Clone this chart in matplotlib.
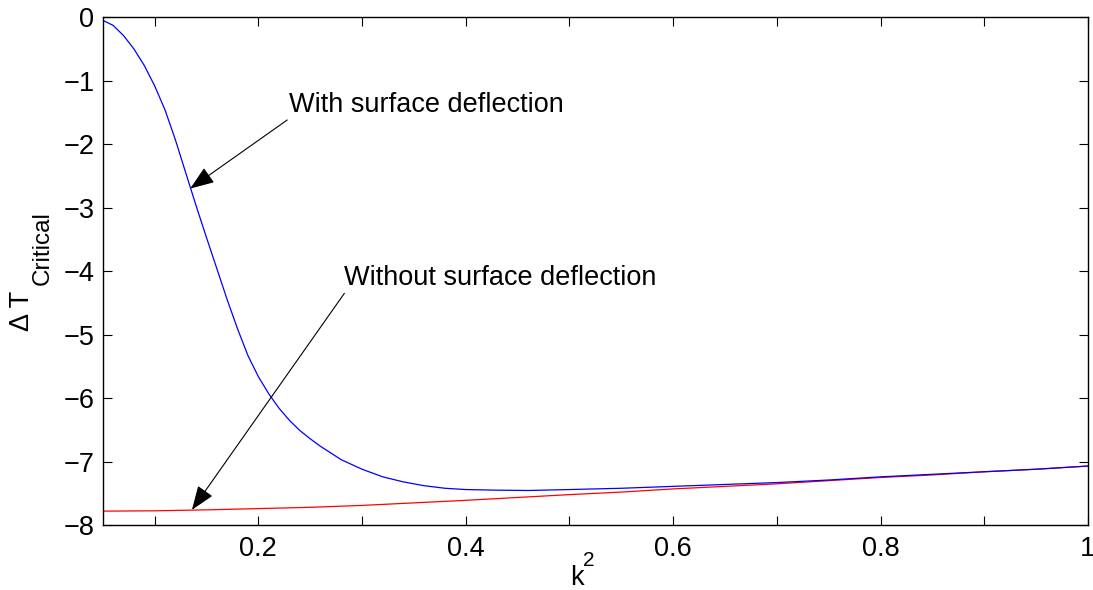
import numpy as np
import matplotlib
matplotlib.use("Agg")
import matplotlib.pyplot as plt

plt.rcParams['font.family'] = ['Liberation Sans', 'DejaVu Sans']

# critical temperature difference vs k^2
k2_with = [0.05, 0.06, 0.07, 0.08, 0.09, 0.10, 0.11, 0.12, 0.13, 0.14,
           0.15, 0.16, 0.17, 0.18, 0.19, 0.20, 0.21, 0.22, 0.23, 0.24,
           0.25, 0.26, 0.28, 0.30, 0.32, 0.34, 0.36, 0.38, 0.40, 0.43,
           0.46, 0.50, 0.55, 0.60, 0.65, 0.70, 0.75, 0.80, 0.85, 0.90,
           0.95, 1.00]
dT_with = [-0.05, -0.13, -0.29, -0.50, -0.76, -1.08, -1.46, -1.93, -2.45, -2.97,
           -3.47, -3.96, -4.45, -4.91, -5.33, -5.66, -5.93, -6.16, -6.35, -6.51,
           -6.64, -6.76, -6.97, -7.12, -7.24, -7.32, -7.38, -7.42, -7.44, -7.45,
           -7.455, -7.44, -7.42, -7.39, -7.36, -7.33, -7.29, -7.24, -7.20, -7.16,
           -7.12, -7.07]

k2_without = [0.05, 0.10, 0.15, 0.20, 0.25, 0.30, 0.35, 0.40, 0.45, 0.50,
              0.55, 0.60, 0.65, 0.70, 0.75, 0.80, 0.85, 0.90, 0.95, 1.00]
dT_without = [-7.78, -7.775, -7.76, -7.74, -7.72, -7.69, -7.65, -7.61, -7.565, -7.52,
              -7.48, -7.43, -7.39, -7.35, -7.30, -7.25, -7.21, -7.16, -7.12, -7.07]

xticks = np.round(np.arange(0.1, 1.01, 0.1), 1)
xticklabels = ['' if round(t * 10) % 2 else ('1' if t == 1 else '%.1f' % t) for t in xticks]
yticks = list(range(-8, 1))

fs = 19.5

fig = plt.figure(figsize=(10.93, 5.90), dpi=100)
ax = fig.add_axes([0.094, 0.110, 0.9014, 0.861])

ax.plot(k2_without, dT_without, color='red', lw=0.9)
ax.plot(k2_with, dT_with, color='blue', lw=0.9)

ax.set_xlim(0.05, 1)
ax.set_ylim(-8, 0)
ax.set_xticks(xticks)
ax.set_xticklabels(xticklabels)
ax.set_yticks(yticks)
ax.tick_params(direction='in', length=6.5, width=0.8, labelsize=fs,
               top=True, right=True)
ax.tick_params(axis='x', pad=8)
ax.tick_params(axis='y', pad=6)
for s in ax.spines.values():
    s.set_linewidth(1.0)

# x label k^2, with a large superscript
fig.text(577 / 1093, 1 - 585 / 590, 'k', fontsize=fs, ha='center', va='baseline')
fig.text(589 / 1093, 1 - 566 / 590, '2', fontsize=15, ha='center', va='baseline')

# y label: delta T with a large "Critical" subscript
fig.text(22 / 1093, 1 - 311 / 590, '\u0394 T', rotation=90, fontsize=fs,
         ha='center', va='center')
fig.text(43 / 1093, 1 - 248 / 590, 'Critical', rotation=90, fontsize=17.5,
         ha='center', va='center')

arrow = dict(arrowstyle='-|>,head_length=0.75,head_width=0.28', color='black',
             lw=0.8, shrinkA=0, shrinkB=0, mutation_scale=20)
ax.annotate('', xy=(0.1343, -2.70), xytext=(0.2279, -1.62), arrowprops=arrow)
ax.text(0.2298, -1.386, 'With surface deflection', fontsize=fs, va='center', ha='left')
ax.annotate('', xy=(0.136, -7.76), xytext=(0.283, -4.35), arrowprops=arrow)
ax.text(0.283, -4.11, 'Without surface deflection', fontsize=fs, va='center', ha='left')

fig.savefig('out.png', dpi=100)
